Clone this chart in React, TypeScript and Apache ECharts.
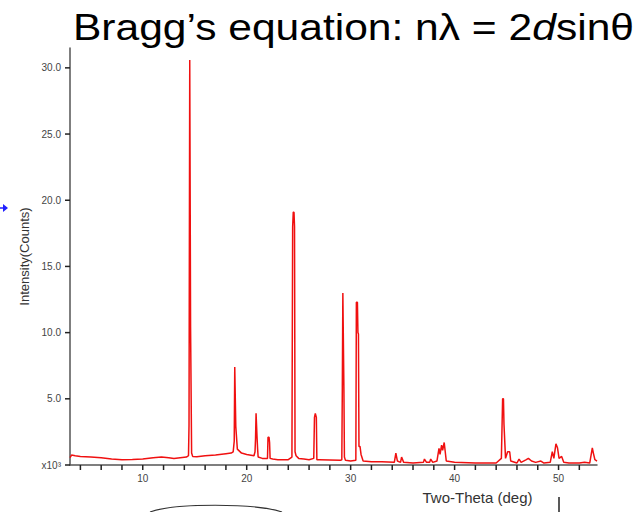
import React, { useEffect, useRef } from "react";
import * as echarts from "echarts";

// Two-theta positions (deg) and intensity (x10^3 counts)
const twoTheta: number[] = [
  3.0, 3.15, 3.5, 4.0, 5.0, 6.0, 7.0, 8.0, 9.0, 10.0, 11.0, 11.8, 12.5, 13.0, 13.6, 14.2, 14.4,
  14.45, 14.5, 14.52, 14.58, 14.6, 14.65, 14.7, 14.8, 15.2, 16.0, 17.0, 18.0, 18.5, 18.7,
  18.8, 18.85, 18.9, 18.95, 19.0, 19.1, 19.5, 20.0, 20.7, 20.8, 20.85, 20.9, 20.95, 21.0,
  21.05, 21.1, 21.5, 22.0, 22.05, 22.15, 22.2, 22.25, 22.5, 23.0, 24.0, 24.35, 24.42, 24.48,
  24.55, 24.6, 24.65, 24.75, 25.0, 25.5, 26.0, 26.45, 26.52, 26.6, 26.65, 26.7, 26.75, 27.0,
  28.0, 29.0, 29.15, 29.2, 29.25, 29.3, 29.35, 29.4, 29.5, 30.0, 30.5, 30.55, 30.65, 30.7,
  30.75, 30.8, 30.9, 31.0, 31.2, 32.0, 33.0, 34.2, 34.35, 34.5, 34.8, 34.9, 35.1, 36.0, 37.0,
  37.1, 37.3, 37.6, 37.7, 37.9, 38.3, 38.5, 38.6, 38.75, 38.85, 39.0, 39.1, 39.2, 40.0, 42.0,
  44.0, 44.5, 44.62, 44.7, 44.75, 44.8, 44.9, 45.1, 45.3, 45.4, 46.0, 46.2, 46.4, 46.9, 47.1,
  47.4, 47.8, 48.3, 48.6, 49.2, 49.4, 49.55, 49.75, 49.9, 50.05, 50.3, 50.5, 51.0, 52.0,
  52.5, 53.0, 53.25, 53.35, 53.5, 53.7,
];
const counts: number[] = [
  0.55, 0.75, 0.7, 0.65, 0.6, 0.55, 0.45, 0.4, 0.42, 0.45, 0.55, 0.6, 0.55, 0.5, 0.55, 0.6, 0.7,
  3.0, 3.0, 30.6, 30.6, 10.4, 10.4, 0.9, 0.65, 0.63, 0.7, 0.75, 0.85, 0.9, 1.0,
  1.8, 7.4, 7.4, 2.9, 2.9, 1.2, 0.9, 0.8, 0.7, 1.0, 2.0, 3.9, 3.9, 2.0,
  1.2, 0.6, 0.5, 0.5, 2.1, 2.1, 1.7, 0.5, 0.45, 0.4, 0.4, 0.6, 18.0, 19.1,
  19.1, 18.0, 1.0, 0.7, 0.5, 0.45, 0.4, 0.5, 3.6, 3.9, 3.9, 3.6, 0.4, 0.4,
  0.38, 0.35, 0.4, 5.9, 13.0, 13.0, 5.9, 0.6, 0.35, 0.3, 0.35, 12.3, 12.3, 10.0,
  9.9, 1.4, 1.4, 0.8, 0.3, 0.25, 0.25, 0.2, 0.9, 0.3, 0.2, 0.6, 0.2, 0.15, 0.2,
  0.45, 0.2, 0.2, 0.45, 0.2, 0.3, 1.25, 0.8, 1.5, 1.1, 1.7, 1.0, 0.3, 0.2, 0.15,
  0.15, 0.5, 5.0, 5.0, 3.1, 3.1, 0.5, 1.0, 1.0, 0.3, 0.15, 0.45, 0.2, 0.4, 0.5,
  0.3, 0.2, 0.3, 0.15, 0.2, 1.0, 0.5, 1.6, 1.3, 0.5, 0.65, 0.2, 0.15, 0.15,
  0.2, 0.15, 1.3, 0.9, 0.4, 0.3,
];

const X_MIN = 3;
const X_MAX = 53.7;
const Y_MIN = 0;
const Y_MAX = 31.5;
const xTickValues: number[] = [4, 6, 8, 10, 12, 14, 16, 18, 20, 22, 24, 26, 28, 30, 32, 34, 36, 38, 40, 42, 44, 46, 48, 50, 52];
const xLabelValues: number[] = [10, 20, 30, 40, 50];
const yTickValues: number[] = [0, 5, 10, 15, 20, 25, 30];

const SANS = "Liberation Sans, Arial, sans-serif";

export default function App() {
  const ref = useRef<HTMLDivElement>(null);
  useEffect(() => {
    if (!ref.current) return;
    const chart = echarts.init(ref.current, null, { renderer: "svg" });
    const data = twoTheta.map((x, i) => [x, counts[i]]);
    chart.setOption({
      animation: false,
      backgroundColor: "#ffffff",
      grid: { left: 70, right: 42, top: 48, bottom: 47, containLabel: false },
      xAxis: {
        type: "value",
        min: X_MIN,
        max: X_MAX,
        name: "Two-Theta (deg)",
        nameLocation: "middle",
        nameGap: 25,
        nameTextStyle: {
          fontFamily: SANS,
          fontSize: 15,
          color: "#333",
          padding: [0, 0, 0, 288],
        },
        axisLine: { show: true, onZero: false, lineStyle: { color: "#555", width: 1.5 } },
        axisTick: { show: false },
        axisLabel: {
          customValues: xLabelValues,
          fontFamily: SANS,
          fontSize: 10,
          color: "#444",
          margin: 8,
        },
        splitLine: { show: false },
      },
      yAxis: {
        type: "value",
        min: Y_MIN,
        max: Y_MAX,
        name: "Intensity(Counts)",
        nameLocation: "middle",
        nameGap: 37,
        nameTextStyle: {
          fontFamily: SANS,
          fontSize: 13,
          color: "#333",
        },
        axisLine: { show: true, lineStyle: { color: "#555", width: 1.5 } },
        axisTick: { show: false },
        axisLabel: {
          customValues: yTickValues,
          fontFamily: SANS,
          fontSize: 10,
          color: "#444",
          margin: 9,
          formatter: (v: number) => (v === 0 ? "x10\u00b3" : v.toFixed(1)),
        },
        splitLine: { show: false },
      },
      series: [
        {
          type: "line",
          data,
          showSymbol: false,
          symbol: "none",
          lineStyle: { color: "#f01010", width: 1.5 },
          z: 2,
        },
        {
          type: "custom",
          coordinateSystem: "cartesian2d",
          silent: true,
          clip: false,
          data: xTickValues.map((v) => [v, Y_MIN]),
          renderItem: (_p: any, api: any) => {
            const pt = api.coord([api.value(0), api.value(1)]);
            return {
              type: "line",
              shape: { x1: pt[0], y1: pt[1], x2: pt[0], y2: pt[1] + 5 },
              style: { stroke: "#222", lineWidth: 1.5, fill: null },
            };
          },
          z: 5,
        },
        {
          type: "custom",
          coordinateSystem: "cartesian2d",
          silent: true,
          clip: false,
          data: yTickValues.map((v) => [X_MIN, v]),
          renderItem: (_p: any, api: any) => {
            const pt = api.coord([api.value(0), api.value(1)]);
            return {
              type: "line",
              shape: { x1: pt[0] - 5, y1: pt[1], x2: pt[0], y2: pt[1] },
              style: { stroke: "#222", lineWidth: 1.5, fill: null },
            };
          },
          z: 5,
        },
      ],
      graphic: [
        {
          type: "text",
          x: 73,
          y: 9,
          scaleX: 1.15,
          style: {
            text: "{a|Bragg\u2019s equation: n\u03bb = 2}{b|d}{a|sin\u03b8}",
            rich: {
              a: { fontFamily: SANS, fontSize: 37, fill: "#000", color: "#000" },
              b: { fontFamily: SANS, fontSize: 37, fontStyle: "italic", fill: "#000", color: "#000" },
            },
            fill: "#000",
          },
        },
        { type: "line", shape: { x1: 0, y1: 208, x2: 4, y2: 208 }, style: { stroke: "#2020ff", lineWidth: 1.5 } },
        { type: "polygon", shape: { points: [[3, 204], [8, 208], [3, 212]] }, style: { fill: "#2020ff" } },
        {
          type: "bezierCurve",
          shape: { x1: 150, y1: 512, cpx1: 175, cpy1: 503, cpx2: 255, cpy2: 503, x2: 282, y2: 512 },
          style: { stroke: "#333", lineWidth: 1.2, fill: "none" },
        },
        { type: "line", shape: { x1: 559, y1: 497, x2: 559, y2: 512 }, style: { stroke: "#222", lineWidth: 1.5 } },
      ],
    });
    return () => chart.dispose();
  }, []);
  return (
    <div
      ref={ref}
      style={{ position: "absolute", left: 0, top: 0, width: 639, height: 512, background: "#fff" }}
    />
  );
}
